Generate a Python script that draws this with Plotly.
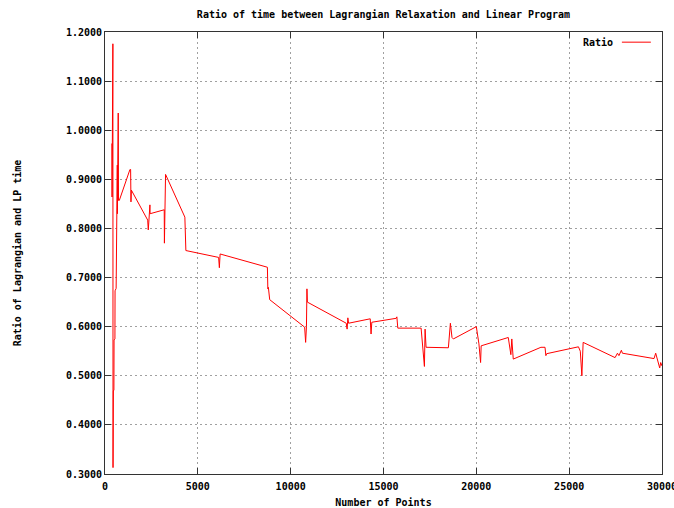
import plotly.graph_objects as go

# Number of points in each test instance
num_points = [
    370, 380, 425, 432, 445, 450, 480, 488, 535, 542, 600, 615, 650, 662, 668,
    712, 728, 770, 1344, 1380, 1398, 1420, 2300, 2330, 2360, 2419, 2430, 3190,
    3200, 3230, 3262, 4301, 4320, 4340, 4355, 6120, 6160, 6200, 8747, 8770,
    8800, 8871, 10753, 10806, 10850, 10877, 10900, 12993, 13040, 13080, 13120,
    14285, 14330, 14370, 15680, 15720, 15770, 17025, 17110, 17204, 17240,
    17293, 18495, 18602, 18690, 18763, 20000, 20060, 20140, 20230, 20260,
    21720, 21810, 21860, 21910, 21989, 23478, 23700, 23745, 23790, 25500,
    25600, 25684, 25753, 27473, 27600, 27680, 27812, 27866, 29570, 29660,
    29876, 29930, 30000,
]

# Ratio of Lagrangian relaxation time to LP time
ratio = [
    0.973, 0.864, 1.176, 0.313, 0.367, 0.469, 0.471, 0.573, 0.575, 0.673,
    0.678, 0.800, 0.780, 0.929, 0.830, 1.035, 0.857, 0.857, 0.920, 0.920,
    0.854, 0.878, 0.817, 0.797, 0.813, 0.848, 0.830, 0.838, 0.770, 0.871,
    0.910, 0.823, 0.789, 0.796, 0.755, 0.741, 0.720, 0.748, 0.721, 0.677,
    0.680, 0.655, 0.599, 0.568, 0.600, 0.677, 0.650, 0.607, 0.595, 0.618,
    0.607, 0.616, 0.585, 0.609, 0.617, 0.620, 0.597, 0.597, 0.551, 0.519,
    0.595, 0.558, 0.557, 0.607, 0.578, 0.575, 0.600, 0.588, 0.565, 0.527,
    0.561, 0.578, 0.551, 0.543, 0.575, 0.534, 0.558, 0.558, 0.541, 0.545,
    0.559, 0.550, 0.500, 0.568, 0.537, 0.546, 0.541, 0.552, 0.546, 0.535,
    0.546, 0.516, 0.527, 0.520,
]

x_ticks = [0, 5000, 10000, 15000, 20000, 25000, 30000]
y_ticks = [0.3, 0.4, 0.5, 0.6, 0.7, 0.8, 0.9, 1.0, 1.1, 1.2]

FONT = "DejaVu Sans Mono"
AXIS_COLOR = "#333333"
GRID_COLOR = "#a0a0a0"

fig = go.Figure()
fig.add_trace(go.Scatter(
    x=num_points, y=ratio, mode="lines", name="Ratio",
    line=dict(color="#ff0000", width=1),
    showlegend=False,
))

axis_common = dict(
    showline=True, linecolor=AXIS_COLOR, linewidth=1, mirror="ticks",
    ticks="inside", ticklen=6, tickcolor=AXIS_COLOR, tickwidth=1,
    showgrid=True, gridcolor=GRID_COLOR, griddash="2px,3px", gridwidth=1,
    zeroline=False, automargin=False, ticklabeloverflow="allow",
    tickfont=dict(family=FONT, size=10, color="#000000", weight="bold"),
)

fig.update_xaxes(
    range=[0, 30000], tickvals=x_ticks, tickformat="d",
    ticklabelstandoff=3,
    title=dict(text="Number of Points", standoff=8,
               font=dict(family=FONT, size=10, color="#000000", weight="bold")),
    **axis_common,
)
fig.update_yaxes(
    range=[0.3, 1.2], tickvals=y_ticks, tickformat=".4f",
    title=dict(text="Ratio of Lagrangian and LP time", standoff=42,
               font=dict(family=FONT, size=10, color="#000000", weight="bold")),
    **axis_common,
)

# Key in the upper right: label followed by a line sample
fig.add_annotation(
    x=0.916, y=0.977, xref="paper", yref="paper", xanchor="right",
    yanchor="middle", text="Ratio", showarrow=False,
    font=dict(family=FONT, size=10, color="#000000", weight="bold"),
)
fig.add_shape(
    type="line", xref="paper", yref="paper", x0=0.928, x1=0.980,
    y0=0.977, y1=0.977, line=dict(color="#ff0000", width=1),
)

fig.update_layout(
    width=674, height=508,
    margin=dict(l=105, r=12, t=32, b=34),
    paper_bgcolor="white", plot_bgcolor="white",
    title=dict(
        text="Ratio of time between Lagrangian Relaxation and Linear Program",
        x=0.5, xref="paper", y=1 - 14 / 508, yref="container",
        xanchor="center", yanchor="middle",
        font=dict(family=FONT, size=10, color="#000000", weight="bold"),
    ),
)

fig.write_html("out.html")
